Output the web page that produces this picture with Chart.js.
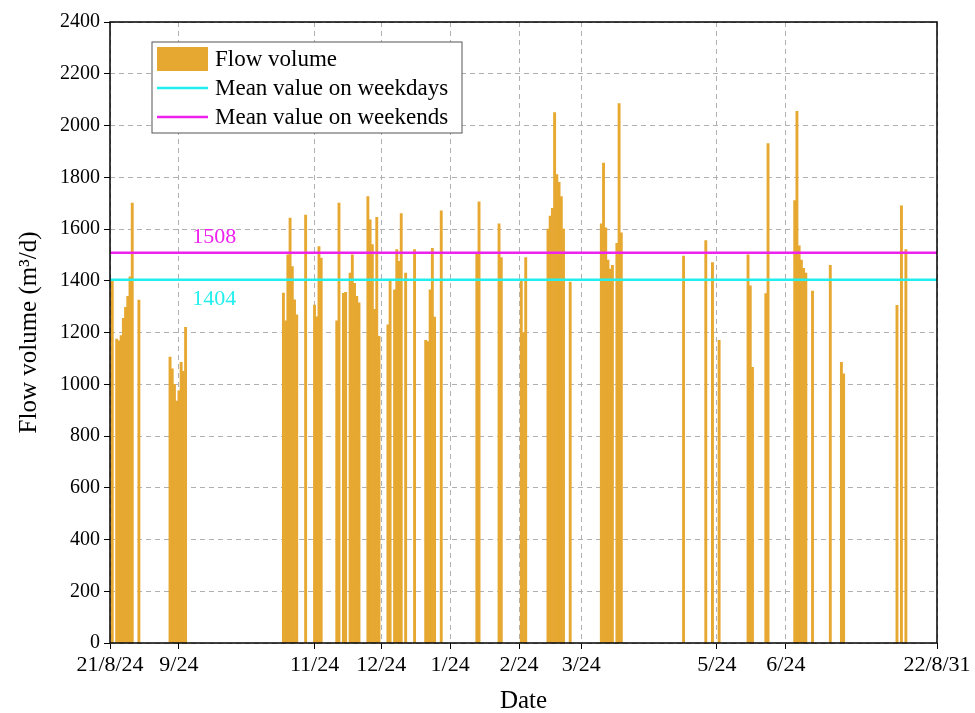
<!DOCTYPE html>
<html>
<head>
<meta charset="utf-8">
<script src="https://cdn.jsdelivr.net/npm/chart.js@4.4.0/dist/chart.umd.min.js"></script>
<style>
  html, body { margin: 0; padding: 0; background: #fff; }
  #wrap { width: 975px; height: 713px; }
</style>
</head>
<body>
<div id="wrap"><canvas id="myChart" width="975" height="713"></canvas></div>
<script>
// days counted from 2021/8/24
var flowDays = [1, 3, 4, 5, 6, 7, 8, 9, 10, 13,
  27, 28, 29, 30, 31, 32, 33, 34,
  78, 79, 80, 81, 82, 83, 84, 88, 92, 93, 94, 95,
  102, 103, 105, 106, 108, 109, 110, 111, 112,
  116, 117, 118, 119, 120, 121, 125, 126, 128, 129, 130, 131, 133, 137,
  142, 143, 144, 145, 146, 149,
  165, 166, 175, 176, 185, 186, 187,
  197, 198, 199, 200, 201, 202, 203, 204, 207,
  221, 222, 223, 224, 225, 226, 228, 229, 230,
  258, 268, 271, 274,
  287, 288, 289, 295, 296,
  308, 309, 310, 311, 312, 313, 316, 324, 329, 330,
  354, 356, 358];
var flowValues = [1400, 1175, 1168, 1188, 1255, 1297, 1340, 1415, 1700, 1325,
  1105, 1060, 1000, 935, 975, 1085, 1050, 1220,
  1352, 1245, 1500, 1642, 1455, 1326, 1268, 1654, 1306, 1261, 1532, 1488,
  1245, 1700, 1351, 1355, 1430, 1500, 1390, 1340, 1315,
  1725, 1635, 1540, 1290, 1645, 1185, 1230, 1400, 1365, 1520, 1475, 1660, 1430, 1520,
  1170, 1165, 1365, 1525, 1260, 1670,
  1505, 1705, 1620, 1490, 1400, 1200, 1490,
  1600, 1650, 1680, 2050, 1810, 1780, 1725, 1600, 1395,
  1620, 1855, 1605, 1480, 1445, 1460, 1545, 2085, 1585,
  1495, 1555, 1470, 1170,
  1500, 1380, 1065, 1350, 1930,
  1710, 2055, 1535, 1480, 1448, 1430, 1360, 1460, 1085, 1040,
  1305, 1690, 1520];

var meanWeekdays = 1404;
var meanWeekends = 1508;
var lastDay = 372;

var tickDays = [0, 31, 92, 122, 153, 184, 212, 273, 304, 372];
var tickLabels = ['21/8/24', '9/24', '11/24', '12/24', '1/24', '2/24', '3/24', '5/24', '6/24', '22/8/31'];

var FONT = "'Liberation Serif', 'Times New Roman', serif";

// frame + mean labels + legend box
var extras = {
  id: 'extras',
  afterDraw: function (chart) {
    var ctx = chart.ctx, a = chart.chartArea;
    var xs = chart.scales.x, ys = chart.scales.y;
    ctx.save();
    ctx.strokeStyle = '#000';
    ctx.lineWidth = 1.5;
    ctx.strokeRect(a.left, a.top, a.right - a.left, a.bottom - a.top);

    ctx.font = '22px ' + FONT;
    ctx.textAlign = 'left';
    ctx.textBaseline = 'middle';
    ctx.fillStyle = '#ee22ee';
    ctx.fillText(String(meanWeekends), xs.getPixelForValue(37), ys.getPixelForValue(meanWeekends) - 16);
    ctx.fillStyle = '#22eeee';
    ctx.fillText(String(meanWeekdays), xs.getPixelForValue(37), ys.getPixelForValue(meanWeekdays) + 20);

    // legend
    var lx = a.left + 42, ly = a.top + 20;
    ctx.fillStyle = '#fff';
    ctx.fillRect(lx, ly, 310, 91);
    ctx.strokeStyle = '#555';
    ctx.lineWidth = 1;
    ctx.strokeRect(lx, ly, 310, 91);
    var ds = chart.data.datasets;
    var rows = [ly + 17, ly + 46, ly + 75];
    ds.forEach(function (d, i) {
      if (d.type === 'line') {
        ctx.strokeStyle = d.borderColor;
        ctx.lineWidth = 2.5;
        ctx.beginPath();
        ctx.moveTo(lx + 5, rows[i]);
        ctx.lineTo(lx + 56, rows[i]);
        ctx.stroke();
      } else {
        ctx.fillStyle = d.backgroundColor;
        ctx.fillRect(lx + 5, rows[i] - 12, 51, 24);
      }
      ctx.fillStyle = '#000';
      ctx.font = '23px ' + FONT;
      ctx.fillText(d.label, lx + 63, rows[i] + 1);
    });
    ctx.restore();
  }
};

var barData = flowDays.map(function (d, i) { return { x: d, y: flowValues[i] }; });

new Chart('myChart', {
  type: 'bar',
  data: {
    datasets: [{
      type: 'bar',
      label: 'Flow volume',
      data: barData,
      backgroundColor: '#e6a830',
      borderWidth: 0,
      barPercentage: 1,
      categoryPercentage: 1,
      order: 2
    }, {
      type: 'line',
      label: 'Mean value on weekdays',
      data: [{ x: 0, y: meanWeekdays }, { x: lastDay, y: meanWeekdays }],
      borderColor: '#22eeee',
      borderWidth: 2.5,
      pointRadius: 0,
      order: 1
    }, {
      type: 'line',
      label: 'Mean value on weekends',
      data: [{ x: 0, y: meanWeekends }, { x: lastDay, y: meanWeekends }],
      borderColor: '#ee22ee',
      borderWidth: 2.5,
      pointRadius: 0,
      order: 0
    }]
  },
  options: {
    responsive: false,
    animation: false,
    layout: { padding: { top: 22, right: 38, left: 0, bottom: 0 } },
    plugins: { legend: { display: false }, tooltip: { enabled: false } },
    scales: {
      x: {
        type: 'linear',
        min: 0,
        max: lastDay,
        offset: false,
        afterBuildTicks: function (scale) {
          scale.ticks = tickDays.map(function (v) { return { value: v }; });
        },
        afterFit: function (scale) { scale.height = 70; },
        ticks: {
          autoSkip: false,
          maxRotation: 0,
          color: '#000',
          padding: 3,
          font: { family: FONT, size: 22 },
          callback: function (v) {
            var i = tickDays.indexOf(v);
            return i >= 0 ? tickLabels[i] : '';
          }
        },
        grid: {
          color: '#b0b0b0',
          tickColor: '#000',
          tickLength: 6,
          offset: false
        },
        border: { display: false, dash: [5, 4] },
        title: {
          display: true,
          text: 'Date',
          color: '#000',
          padding: { top: 6, bottom: 0 },
          font: { family: FONT, size: 25, lineHeight: 0.9 }
        }
      },
      y: {
        min: 0,
        max: 2400,
        afterFit: function (scale) { scale.width = 110; },
        ticks: {
          stepSize: 200,
          color: '#000',
          padding: 4,
          font: { family: FONT, size: 20 },
          callback: function (v) { return String(v); }
        },
        grid: {
          color: '#b0b0b0',
          tickColor: '#000',
          tickLength: 6
        },
        border: { display: false, dash: [5, 4] },
        title: {
          display: true,
          text: 'Flow volume (m³/d)',
          color: '#000',
          padding: { top: 14, bottom: 4 },
          font: { family: FONT, size: 25 }
        }
      }
    }
  },
  plugins: [extras]
});
</script>
</body>
</html>
